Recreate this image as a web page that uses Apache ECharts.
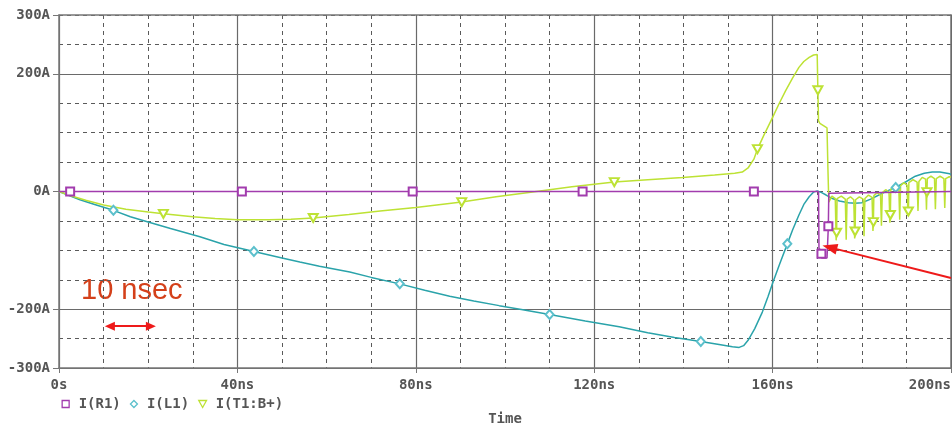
<!DOCTYPE html>
<html>
<head>
<meta charset="utf-8">
<script src="https://cdn.jsdelivr.net/npm/echarts@6/dist/echarts.min.js"></script>
<style>
html,body{margin:0;padding:0;background:#ffffff;}
#chart{width:952px;height:427px;}
</style>
</head>
<body>
<div id="chart"></div>
<script>
// ---- axis ticks ----
const xLabelValues = [0, 40, 80, 120, 160, 200];          // ns
const yLabelValues = [-300, -200, 0, 200, 300];           // A
const seriesNames = ['I(R1)', 'I(L1)', 'I(T1:B+)'];

// ---- I(R1) ----
const r1Time    = [0, 2.5, 41, 79.3, 117.4, 155.8, 170.3, 170.4, 170.9, 170.95, 171.0, 172.2, 172.5, 172.6, 173, 200];
const r1Current = [0, 0,   0,  0,    0,     0,     0,     -97,   -100,  -106,   -113,  -113,  -59,   -3,    0,   0];
const r1Markers = [2.5, 41, 79.3, 117.4, 155.8, 170.95, 172.5];

// ---- I(L1) ----
const l1Time = [0, 2, 4.7, 8, 12.2, 16, 19.6, 25, 31.6, 37, 43.7, 50, 54, 58.4, 65.2, 70, 76.4, 82, 87.6, 93, 98.7, 104, 110,
  118, 125.6, 132, 138, 143.9, 148, 151, 152.5, 153.5, 154.5, 156, 157.7, 159, 160, 161.5, 163.3, 164.5, 165.9, 167, 168.2,
  169.2, 170, 171, 172, 173.4, 175, 177, 178.5, 180, 182, 184.6, 186, 187.6, 190, 192, 194, 195.8, 197.5, 199.7, 200];
const l1Current = [0, -6, -14, -22, -32, -43, -51, -63, -77, -90, -102, -113, -120, -127, -137, -146, -157, -168, -178, -186, -194, -201, -209,
  -220, -230, -240, -248, -255, -260, -264, -265, -262, -253, -233, -205, -178, -156, -125, -89, -65, -40, -22, -9,
  -1, 1, -2, -6, -12, -16, -19, -20, -19, -13, -3, 2, 7, 17, 26, 31, 33, 33, 30, 29];
const l1Markers = [12.2, 43.7, 76.4, 110, 143.9, 163.3, 187.6];

// ---- I(T1:B+) ----
const t1Time = [0, 3, 6, 10, 15, 20, 23.4, 30, 35, 40, 47, 52, 57, 65, 72, 80, 90.3, 98, 106.2, 115, 124.5, 132, 139.8, 147,
  151.5, 153.2, 154.5, 155.8, 156.6, 158, 160, 161.5, 162.9, 164.5, 165.9, 167, 168.2, 169.2, 170, 170.15, 170.3, 170.6,
  172.2, 172.4, 172.6, 173.3,
  174.05, 174.25, 174.35, 174.45, 175.4, 176.3, 176.5, 176.7, 177.45, 178.2, 178.4, 178.5, 178.6, 179.45,
  180.3, 180.5, 180.7, 181.5, 182.3, 182.5, 182.6, 182.7, 183.45, 184.2, 184.4, 184.6, 185.35,
  186.1, 186.3, 186.4, 186.5, 187.4, 188.3, 188.5, 188.7, 189.4, 190.15, 190.35, 190.45, 190.55, 191.5,
  192.4, 192.6, 192.8, 193.55, 194.3, 194.5, 194.6, 194.7, 195.5, 196.3, 196.5, 196.7, 197.55,
  198.4, 198.6, 198.8, 199.6, 200];
const t1Current = [0, -8, -15, -23, -30, -35, -38, -43, -46, -48, -48, -47, -45, -39, -33, -27, -18, -9, -1, 8, 16, 20, 24, 28,
  31, 33, 40, 55, 72, 95, 126, 150, 171, 193, 211, 221, 228, 232, 233, 172, 120, 116,
  108, 40, -18, -8,
  -12, -83, -70, -12, -8, -13, -82, -13, -9, -14, -80, -68, -14, -9,
  -13, -76, -12, -6, -10, -67, -52, -7, -2, -6, -58, -2, 3,
  -1, -53, -40, 4, 9, 5, -48, 10, 15, 11, -41, -34, 15, 20,
  16, -33, 17, 24, 21, -31, -1, 22, 26, 22, -30, 22, 26,
  22, -28, 22, 25, 24];
const t1Markers = [23.4, 57, 90.3, 124.5, 156.6, 170.15, 174.35, 178.5, 182.6, 186.4, 190.45, 194.6];

// ---- annotations (data coordinates) ----
const spanArrow = [[11.4, -229], [20.6, -229]];
const pointerArrow = [[200, -147], [172.8, -95]];

const colR1 = '#a23cae';
const colL1 = '#2aa3aa';
const colT1 = '#bde234';
const axisFont = 'DejaVu Sans Mono';
const labelColor = '#555555';

function buildData(times, values, markers, sym) {
  return times.map((t, i) => ({
    value: [t, values[i]],
    symbol: markers.indexOf(t) >= 0 ? sym : 'none'
  }));
}

const chart = echarts.init(document.getElementById('chart'), null, {renderer: 'canvas'});

const option = {
  animation: false,
  backgroundColor: '#ffffff',
  grid: {left: 59, right: 1, top: 15, bottom: 59, containLabel: false, outerBoundsMode: 'none'},
  legend: {
    left: 56.5, top: 392, itemWidth: 16, itemHeight: 7, itemGap: 9,
    textStyle: {fontFamily: axisFont, fontWeight: 'bold', fontSize: 14, color: labelColor, lineHeight: 14},
    selectedMode: false,
    data: [
      {name: seriesNames[0], icon: 'path://M0,0L10,0L10,10L0,10Z', itemStyle: {color: '#ffffff', borderColor: colR1, borderWidth: 1.3}},
      {name: seriesNames[1], icon: 'path://M5,0L10,5L5,10L0,5Z', itemStyle: {color: '#ffffff', borderColor: '#5cc0cc', borderWidth: 1.3}},
      {name: seriesNames[2], icon: 'path://M0,0L10,0L5,9Z', itemStyle: {color: '#ffffff', borderColor: colT1, borderWidth: 1.3}}
    ]
  },
  xAxis: [
    {
      type: 'value', min: 0, max: 200, interval: 40, position: 'bottom', z: 2,
      name: 'Time', nameLocation: 'middle', nameGap: 44,
      nameTextStyle: {fontFamily: axisFont, fontWeight: 'bold', fontSize: 14, color: labelColor},
      axisLine: {show: true, onZero: false, lineStyle: {color: '#777777', width: 1.5}},
      axisTick: {show: true, length: 5, lineStyle: {color: '#777777'}},
      axisLabel: {
        margin: 10, fontFamily: axisFont, fontWeight: 'bold', fontSize: 14, color: labelColor,
        alignMaxLabel: 'right',
        formatter: v => v === 0 ? '0s' : v + 'ns'
      },
      splitLine: {show: true, lineStyle: {color: '#6a6a6a', width: 1.2, type: 'solid'}}
    },
    {
      type: 'value', min: 0, max: 200, interval: 10, position: 'top', z: 1,
      axisLine: {show: true, onZero: false, lineStyle: {color: '#777777', width: 1.5}},
      axisTick: {show: false}, axisLabel: {show: false},
      splitLine: {show: true, lineStyle: {color: '#5a5a5a', width: 1, type: [4, 4]}}
    }
  ],
  yAxis: [
    {
      type: 'value', min: -300, max: 300, interval: 100, position: 'left', z: 2,
      axisLine: {show: true, onZero: false, lineStyle: {color: '#777777', width: 1.5}},
      axisTick: {show: true, length: 6, customValues: yLabelValues, lineStyle: {color: '#777777'}},
      axisLabel: {
        margin: 9, customValues: yLabelValues, fontFamily: axisFont, fontWeight: 'bold', fontSize: 14, color: labelColor,
        formatter: v => v + 'A'
      },
      splitLine: {show: true, lineStyle: {
        color: ['#6a6a6a', '#6a6a6a', 'rgba(0,0,0,0)', '#6a6a6a', 'rgba(0,0,0,0)', '#6a6a6a', '#6a6a6a'],
        width: 1.2, type: 'solid'}}
    },
    {
      type: 'value', min: -300, max: 300, interval: 50, position: 'right', z: 1,
      axisLine: {show: true, onZero: false, lineStyle: {color: '#777777', width: 1.5}},
      axisTick: {show: false}, axisLabel: {show: false},
      splitLine: {show: true, lineStyle: {color: '#5a5a5a', width: 1, type: [4, 4]}}
    }
  ],
  graphic: [
    {
      type: 'text', left: 81, top: 276, silent: true,
      style: {text: '10 nsec', font: '29px "Liberation Sans", Arial, sans-serif', fill: '#d4401a'}
    }
  ],
  series: [
    {
      name: seriesNames[0], type: 'line', xAxisIndex: 0, yAxisIndex: 0, z: 4,
      data: buildData(r1Time, r1Current, r1Markers, 'emptyRect'),
      symbol: 'emptyRect', symbolSize: 8, showSymbol: true, showAllSymbol: true,
      lineStyle: {color: colR1, width: 1.5}, itemStyle: {color: colR1, borderWidth: 1.3},
      markLine: {
        silent: true, animation: false, label: {show: false},
        data: [
          [{coord: spanArrow[0], symbol: 'triangle', symbolSize: [9, 10]}, {coord: spanArrow[1], symbol: 'triangle', symbolSize: [9, 10]}],
          [{coord: pointerArrow[0], symbol: 'none'}, {coord: pointerArrow[1], symbol: 'triangle', symbolSize: [11, 15]}]
        ],
        lineStyle: {color: '#ee1a1a', width: 2, type: 'solid'}
      }
    },
    {
      name: seriesNames[1], type: 'line', xAxisIndex: 0, yAxisIndex: 0, z: 3,
      data: buildData(l1Time, l1Current, l1Markers, 'emptyDiamond'),
      symbol: 'emptyDiamond', symbolSize: [8, 9], showSymbol: true, showAllSymbol: true,
      lineStyle: {color: colL1, width: 1.5}, itemStyle: {color: '#5cc0cc', borderWidth: 1.3}
    },
    {
      name: seriesNames[2], type: 'line', xAxisIndex: 0, yAxisIndex: 0, z: 3,
      data: buildData(t1Time, t1Current, t1Markers, 'emptyTriangle'),
      symbol: 'emptyTriangle', symbolSize: [9, 8], symbolRotate: 180, showSymbol: true, showAllSymbol: true,
      lineStyle: {color: colT1, width: 1.5}, itemStyle: {color: colT1, borderWidth: 1.3}
    }
  ]
};
chart.setOption(option);
</script>
</body>
</html>
